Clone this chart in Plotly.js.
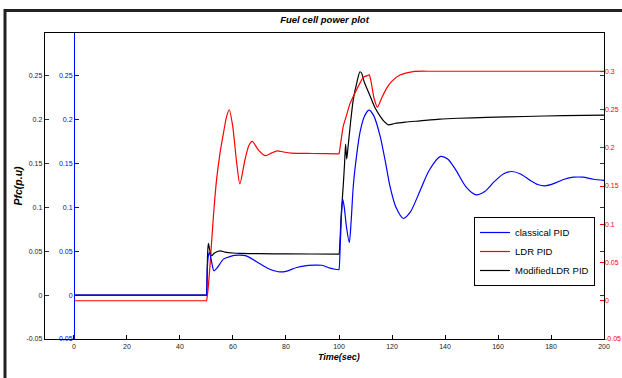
<!DOCTYPE html>
<html>
<head>
<meta charset="utf-8">
<script src="https://cdn.plot.ly/plotly-3.0.1.min.js"></script>
<style>html,body{margin:0;padding:0;background:#fff;}#chart{width:622px;height:378px;}</style>
</head>
<body>
<div id="chart"></div>
<script>
// ---- data ----
const seriesNames = ['classical PID', 'LDR PID', 'ModifiedLDR PID'];

const timeClassical = [0, 49.95, 50, 50.3, 50.7, 51.1, 51.8, 52.8, 54, 56.4, 58.5, 60.5, 62.6, 65, 68.9, 73.2, 77.1, 80, 84, 88.5, 90.9, 93.5, 96.6, 98.5, 99.9, 100,
  100.5, 101, 101.4, 102, 102.8, 103.9, 104.6, 105.4, 106.6, 107.9, 109.5, 111.3, 113, 115.5, 117.5, 119.2, 121.5, 124.3, 127, 130.6, 134, 138.3,
  141, 144, 148, 151.7, 155, 158.5, 162, 165.2, 168.5, 172, 175, 177.7, 181, 185, 188.5, 192, 196, 200];
const pfcClassical = [0, 0, 0, 0.03, 0.045, 0.0486, 0.04, 0.0277, 0.031, 0.041, 0.0435, 0.0452, 0.0456, 0.0447, 0.038, 0.0304, 0.0266, 0.027, 0.0315, 0.0338, 0.0342, 0.034, 0.0307, 0.0295, 0.0289, 0.0289,
  0.06, 0.095, 0.1093, 0.1, 0.078, 0.06, 0.085, 0.1245, 0.158, 0.185, 0.203, 0.2107, 0.205, 0.1815, 0.152, 0.1245, 0.1, 0.0873, 0.095, 0.119, 0.142, 0.158,
  0.155, 0.143, 0.123, 0.1142, 0.118, 0.129, 0.138, 0.1408, 0.138, 0.131, 0.126, 0.1245, 0.127, 0.132, 0.1343, 0.1343, 0.132, 0.1306];

const timeLDR = [0, 49.95, 50, 50.5, 51.3, 52.6, 53.8, 55.1, 56.4, 57.6, 58.6, 59.9, 61.4, 62.6, 64.5, 66, 67.3, 69.6, 72.3, 74.5, 76.7, 79, 82, 90, 99.9, 100,
  100.4, 101, 101.6, 102.9, 104.2, 106, 107.9, 109.2, 110.5, 111.4, 112.2, 113.2, 114.5, 116.1, 118, 120, 123, 128, 135, 150, 200];
const pfcLDR = [0, 0, 0, 0.012, 0.045, 0.11, 0.158, 0.193, 0.219, 0.241, 0.2497, 0.228, 0.18, 0.1527, 0.184, 0.203, 0.2083, 0.197, 0.1896, 0.193, 0.196, 0.1945, 0.193, 0.1925, 0.192, 0.192,
  0.2, 0.2148, 0.228, 0.243, 0.258, 0.2714, 0.2845, 0.2923, 0.294, 0.2953, 0.2845, 0.265, 0.253, 0.265, 0.278, 0.287, 0.295, 0.2996, 0.3, 0.3, 0.3];

const timeModified = [0, 49.95, 50, 50.4, 50.7, 51.2, 51.95, 53, 55.1, 57, 60, 62.6, 70, 80, 99.9, 100,
  100.8, 101.6, 102.1, 102.5, 102.9, 103.3, 104.3, 105.4, 106.8, 107.9, 108.5, 109.5, 111.7, 113.5, 115.5, 117, 118.6, 121, 125, 130.6, 138, 145, 155.7, 170, 185, 200];
const pfcModified = [0, 0, 0, 0.045, 0.0589, 0.052, 0.0448, 0.048, 0.0505, 0.049, 0.048, 0.0475, 0.0472, 0.047, 0.0467, 0.0467,
  0.09, 0.1245, 0.15, 0.172, 0.155, 0.165, 0.195, 0.223, 0.243, 0.2544, 0.253, 0.243, 0.227, 0.214, 0.204, 0.198, 0.194, 0.1955, 0.197, 0.1985, 0.2005, 0.2015, 0.2024, 0.2035, 0.2045, 0.205];

const xTicks = [0, 20, 40, 60, 80, 100, 120, 140, 160, 180, 200];
const leftTicks = [-0.05, 0, 0.05, 0.1, 0.15, 0.2, 0.25];
const leftTickText = ['-0.05', '0', '0.05', '0.1', '0.15', '0.2', '0.25'];
const rightTicks = [-0.05, 0, 0.05, 0.1, 0.15, 0.2, 0.25, 0.3];
const rightTickText = ['-0.05', '0', '0.05', '0.1', '0.15', '0.2', '0.25', '0.3'];

// ---- chart ----
const FONT = 'Liberation Sans, Arial, Helvetica, sans-serif';
const lineStyle = (c) => ({color: c, width: 1.2, shape: 'spline', smoothing: 0.7});
const traces = [
  {x: timeClassical, y: pfcClassical, name: seriesNames[0], type: 'scatter', mode: 'lines',
   yaxis: 'y3', line: lineStyle('#0000ff')},
  {x: timeLDR, y: pfcLDR, name: seriesNames[1], type: 'scatter', mode: 'lines',
   yaxis: 'y2', line: lineStyle('#ff0000')},
  {x: timeModified, y: pfcModified, name: seriesNames[2], type: 'scatter', mode: 'lines',
   yaxis: 'y', line: lineStyle('#000000')}
];

const leftRange = [-0.05, 0.2986];
const layout = {
  width: 622, height: 378,
  margin: {l: 45, r: 18, t: 33, b: 39, pad: 0},
  paper_bgcolor: '#ffffff', plot_bgcolor: '#ffffff',
  font: {family: FONT, size: 7, color: '#222'},
  title: {text: '<b><i>Fuel cell power plot</i></b>', font: {family: FONT, size: 9.5, color: '#000'},
          x: 0.5, xref: 'paper', xanchor: 'center', y: 1 - 20 / 378, yref: 'container', yanchor: 'middle'},
  xaxis: {range: [-10.94, 200], tickvals: xTicks, ticktext: xTicks.map(String), ticks: 'inside', ticklen: 4,
          tickcolor: '#000', showline: true, linecolor: '#000', linewidth: 1.3, mirror: true,
          showgrid: false, zeroline: false, tickfont: {family: FONT, size: 7, color: '#222'}},
  yaxis: {range: leftRange, tickvals: leftTicks, ticktext: leftTickText, ticks: 'inside', ticklen: 4,
          tickcolor: '#333', showline: true, linecolor: '#000', linewidth: 1.3, mirror: 'ticks',
          showgrid: false, zeroline: false, tickfont: {family: FONT, size: 7, color: '#222'},
          title: {text: '<b><i>Pfc(p.u)</i></b>', font: {family: FONT, size: 10.5, color: '#000'}, standoff: 1}},
  yaxis2: {overlaying: 'y', side: 'right', range: [-0.05, 0.35], tickvals: rightTicks, ticktext: rightTickText,
           ticks: 'inside', ticklen: 4, tickcolor: '#ff0000', showline: false, showgrid: false, zeroline: false,
           tickfont: {family: FONT, size: 7, color: '#ff0000'}},
  yaxis3: {overlaying: 'y', anchor: 'free', position: (74 - 45) / 559, side: 'left', range: leftRange,
           tickvals: leftTicks, ticktext: leftTickText, ticks: 'inside', ticklen: 4, tickcolor: '#0000ff',
           showline: true, linecolor: '#0000ff', linewidth: 1, showgrid: false, zeroline: false,
           tickfont: {family: FONT, size: 7, color: '#0000ff'}},
  showlegend: true,
  legend: {x: (474 - 45) / 559, y: (339 - 217) / 306, xanchor: 'left', yanchor: 'top',
           bgcolor: '#ffffff', bordercolor: '#000', borderwidth: 1,
           font: {family: FONT, size: 9.5, color: '#000'}, tracegroupgap: 0},
  annotations: [
    {text: '<b><i>Time(sec)</i></b>', x: 100, xref: 'x', y: (339 - 357) / 306, yref: 'paper',
     xanchor: 'center', yanchor: 'middle', showarrow: false, font: {family: FONT, size: 9, color: '#000'}}
  ],
  shapes: [
    {type: 'rect', xref: 'paper', yref: 'paper', x0: (5 - 45) / 559, x1: (650 - 45) / 559,
     y0: (339 - 400) / 306, y1: (339 - 10.5) / 306, line: {color: '#222', width: 3}, fillcolor: 'rgba(0,0,0,0)', layer: 'below'}
  ]
};

Plotly.newPlot('chart', traces, layout, {staticPlot: true, displayModeBar: false});
</script>
</body>
</html>
